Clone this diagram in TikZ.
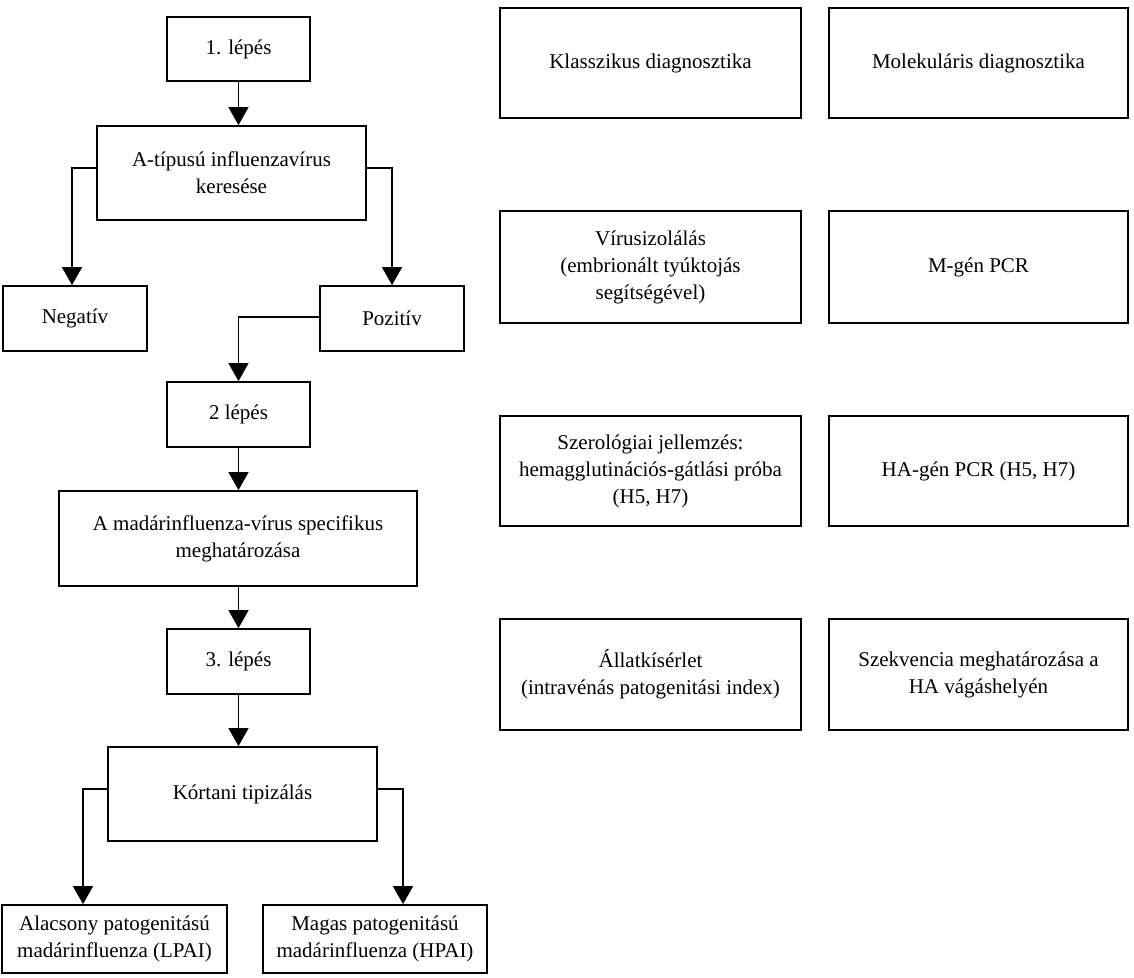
\documentclass[tikz,border=0pt]{standalone}
\usepackage{fontspec}
\setmainfont{Liberation Serif}
\usetikzlibrary{arrows.meta}
\begin{document}
\begin{tikzpicture}[x=1pt,y=-1pt,
  box/.style={draw, line width=1.8pt, align=center, inner sep=2pt, font=\fontsize{21}{27}\selectfont},
  arr/.style={line width=1.5pt, -{Triangle[width=20pt,length=18pt]}}]
\useasboundingbox[fill=white] (0,0) rectangle (1134,977);
% left column
\node[box, minimum width=143pt, minimum height=64pt] (s1) at (238.5,49) {1. lépés};
\node[box, minimum width=269pt, minimum height=94pt] (A) at (231.5,173) {A-típusú influenzavírus\\keresése};
\node[box, minimum width=144pt, minimum height=65pt] (neg) at (75,318.5) {Negatív};
\node[box, minimum width=144pt, minimum height=65pt] (poz) at (392,318.5) {Pozitív};
\node[box, minimum width=143pt, minimum height=65pt] (s2) at (238.5,414.5) {2 lépés};
\node[box, minimum width=358pt, minimum height=95pt] (mad) at (238,538.5) {A madárinfluenza-vírus specifikus\\meghatározása};
\node[box, minimum width=143pt, minimum height=65pt] (s3) at (238.5,661.5) {3. lépés};
\node[box, minimum width=269pt, minimum height=94pt] (kor) at (242.5,794) {Kórtani tipizálás};
\node[box, minimum width=225pt, minimum height=68pt] (lpai) at (114.5,939) {Alacsony patogenitású\\madárinfluenza (LPAI)};
\node[box, minimum width=224pt, minimum height=68pt] (hpai) at (375,939) {Magas patogenitású\\madárinfluenza (HPAI)};
% right columns
\node[box, minimum width=301pt, minimum height=110pt] (r11) at (650.5,63) {Klasszikus diagnosztika};
\node[box, minimum width=299pt, minimum height=110pt] (r12) at (978.5,63) {Molekuláris diagnosztika};
\node[box, minimum width=301pt, minimum height=112pt] (r21) at (650.5,267) {Vírusizolálás\\(embrionált tyúktojás\\segítségével)};
\node[box, minimum width=299pt, minimum height=112pt] (r22) at (978.5,267) {M-gén PCR};
\node[box, minimum width=301pt, minimum height=110pt] (r31) at (650.5,471) {Szerológiai jellemzés:\\hemagglutinációs-gátlási próba\\(H5, H7)};
\node[box, minimum width=299pt, minimum height=110pt] (r32) at (978.5,471) {HA-gén PCR (H5, H7)};
\node[box, minimum width=301pt, minimum height=111pt] (r41) at (650.5,674.5) {Állatkísérlet\\(intravénás patogenitási index)};
\node[box, minimum width=299pt, minimum height=111pt] (r42) at (978.5,674.5) {Szekvencia meghatározása a\\HA vágáshelyén};
% connectors
\draw[arr] (s1.south) -- (s1.south |- A.north);
\draw[arr] ([yshift=5pt]A.west) -| ([xshift=-3pt]neg.north);
\draw[arr] ([yshift=5pt]A.east) -| (poz.north);
\draw[arr] ([yshift=1.5pt]poz.west) -| (s2.north);
\draw[arr] (s2.south) -- (s2.south |- mad.north);
\draw[arr] (mad.south -| s3.north) -- (s3.north);
\draw[arr] (s3.south) -- (s3.south |- kor.north);
\draw[arr] ([yshift=5pt]kor.west) -| ([xshift=-31.5pt]lpai.north);
\draw[arr] ([yshift=5pt]kor.east) -| ([xshift=28pt]hpai.north);
\end{tikzpicture}
\end{document}
